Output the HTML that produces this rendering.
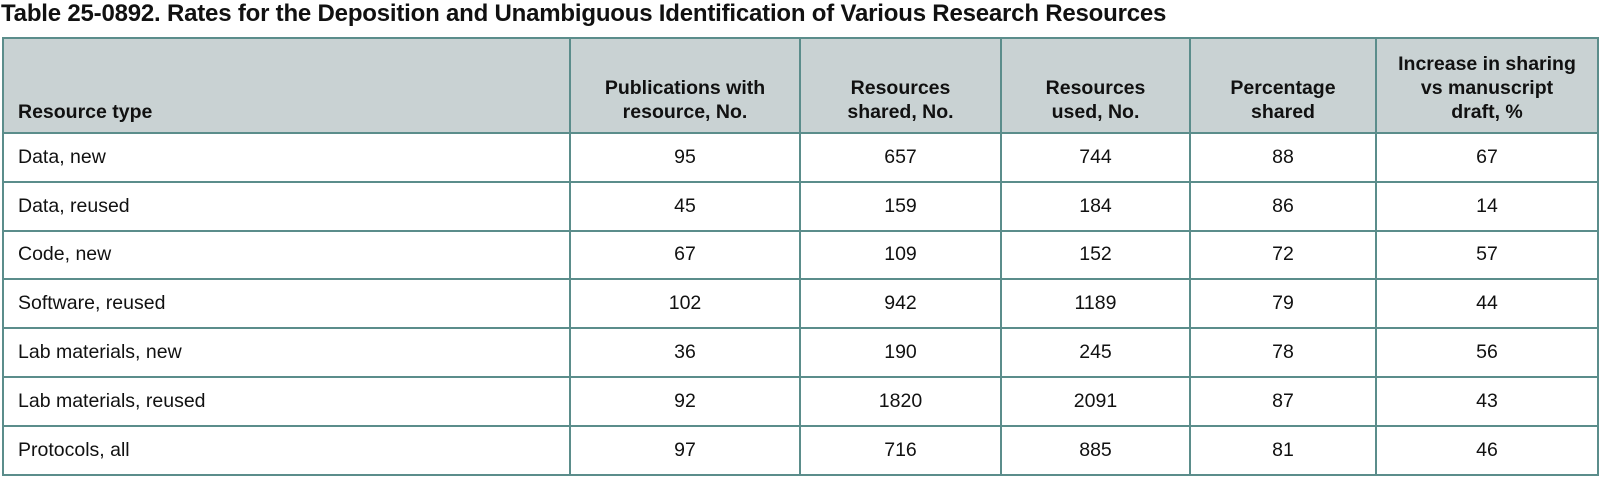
<!DOCTYPE html>
<html><head><style>
body{margin:0;width:1600px;height:477px;background:#fff;font-family:"Liberation Sans",Arial,sans-serif;color:#111;overflow:hidden;position:relative}
.t{position:absolute;left:1px;top:0px;font-size:24px;font-weight:bold;white-space:nowrap;letter-spacing:-0.2px}
table{position:absolute;left:2px;top:37px;border-collapse:collapse;table-layout:fixed}
td,th{border:2px solid #5b8d8b;font-size:19.5px;padding:0 14px;text-align:center}
th{background:#c9d2d3;height:85px;vertical-align:bottom;padding-bottom:8px;line-height:24px;font-weight:bold}
td{height:45.8px;line-height:20px;padding-top:0;padding-bottom:1px}
.l{text-align:left}
</style></head><body>
<div class="t">Table 25-0892. Rates for the Deposition and Unambiguous Identification of Various Research Resources</div>
<table>
<colgroup><col style="width:567px"><col style="width:230px"><col style="width:201px"><col style="width:189px"><col style="width:186px"><col style="width:222px"></colgroup>
<tr><th class="l">Resource type</th><th>Publications with<br>resource, No.</th><th>Resources<br>shared, No.</th><th>Resources<br>used, No.</th><th>Percentage<br>shared</th><th>Increase in sharing<br>vs manuscript<br>draft, %</th></tr>
<tr><td class="l">Data, new</td><td>95</td><td>657</td><td>744</td><td>88</td><td>67</td></tr>
<tr><td class="l">Data, reused</td><td>45</td><td>159</td><td>184</td><td>86</td><td>14</td></tr>
<tr><td class="l">Code, new</td><td>67</td><td>109</td><td>152</td><td>72</td><td>57</td></tr>
<tr><td class="l">Software, reused</td><td>102</td><td>942</td><td>1189</td><td>79</td><td>44</td></tr>
<tr><td class="l">Lab materials, new</td><td>36</td><td>190</td><td>245</td><td>78</td><td>56</td></tr>
<tr><td class="l">Lab materials, reused</td><td>92</td><td>1820</td><td>2091</td><td>87</td><td>43</td></tr>
<tr><td class="l">Protocols, all</td><td>97</td><td>716</td><td>885</td><td>81</td><td>46</td></tr>
</table>
</body></html>
